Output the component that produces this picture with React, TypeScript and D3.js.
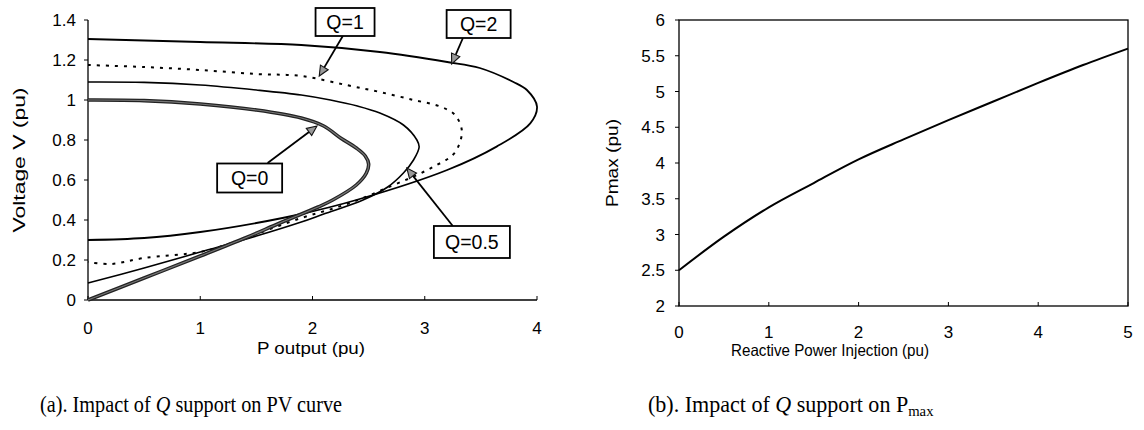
import React from "react";
import * as d3 from "d3";

// ---------- Panel (a): PV curves ----------
const PV_X_TICKS = [0, 1, 2, 3, 4];
const PV_X_LABELS = ["0", "1", "2", "3", "4"];
const PV_Y_TICKS = [0, 0.2, 0.4, 0.6, 0.8, 1.0, 1.2, 1.4];
const PV_Y_LABELS = ["0", "0.2", "0.4", "0.6", "0.8", "1", "1.2", "1.4"];

const Q0_P = [0, 0.5, 1.0, 1.5, 1.9, 2.1, 2.25, 2.39, 2.47, 2.5, 2.48, 2.39, 2.18, 2.05, 1.71, 1.4, 1.0, 0.5, 0];
const Q0_V = [1.0, 0.997, 0.98, 0.95, 0.91, 0.87, 0.81, 0.76, 0.72, 0.68, 0.635, 0.575, 0.5, 0.465, 0.385, 0.31, 0.22, 0.11, 0.0];

const Q05_P = [0, 0.5, 1.0, 1.5, 1.9, 2.16, 2.4, 2.6, 2.81, 2.93, 2.95, 2.9, 2.81, 2.67, 2.45, 2.1, 1.9, 1.5, 1.0, 0.5, 0];
const Q05_V = [1.09, 1.088, 1.075, 1.05, 1.025, 1.0, 0.97, 0.935, 0.875, 0.8, 0.765, 0.7, 0.635, 0.565, 0.5, 0.43, 0.39, 0.32, 0.24, 0.16, 0.085];

const Q1_P = [0, 0.5, 1.0, 1.5, 1.9, 2.3, 2.6, 2.9, 3.14, 3.27, 3.33, 3.31, 3.25, 3.08, 2.9, 2.7, 2.45, 2.2, 1.9, 1.5, 1.2, 1.0, 0.5, 0.2, 0];
const Q1_V = [1.175, 1.165, 1.15, 1.13, 1.12, 1.075, 1.04, 1.0, 0.967, 0.925, 0.85, 0.783, 0.725, 0.667, 0.617, 0.57, 0.51, 0.46, 0.41, 0.33, 0.27, 0.24, 0.21, 0.18, 0.19];

const Q2_P = [0, 1.0, 1.9, 2.6, 3.2, 3.49, 3.79, 3.91, 4.0, 3.94, 3.64, 3.2, 2.39, 1.9, 1.5, 1.0, 0.5, 0];
const Q2_V = [1.305, 1.29, 1.275, 1.24, 1.19, 1.16, 1.09, 1.05, 0.967, 0.883, 0.767, 0.65, 0.5, 0.43, 0.385, 0.34, 0.31, 0.3];

const CURVE_LABELS = ["Q=0", "Q=0.5", "Q=1", "Q=2"];
// label box centres (data units) and arrow tail/tip (data units)
const LABEL_P = [1.44, 3.42, 2.29, 3.48];
const LABEL_V = [0.61, 0.29, 1.39, 1.38];
const ARROW_TAIL_P = [1.6, 3.25, 2.27, 3.34];
const ARROW_TAIL_V = [0.685, 0.37, 1.32, 1.31];
const ARROW_TIP_P = [2.04, 2.84, 2.06, 3.24];
const ARROW_TIP_V = [0.87, 0.66, 1.12, 1.18];
const LABEL_W = [65, 76, 59, 64];
const LABEL_H = [29, 32, 28, 28];

// ---------- Panel (b): Pmax vs Q ----------
const PM_Q = [0, 0.5, 1, 1.5, 2, 2.5, 3, 3.5, 4, 4.5, 5];
const PM_VALUES = [2.5, 2.97, 3.38, 3.72, 4.05, 4.33, 4.6, 4.86, 5.12, 5.37, 5.6];
const PM_X_TICKS = [0, 1, 2, 3, 4, 5];
const PM_X_LABELS = ["0", "1", "2", "3", "4", "5"];
const PM_Y_TICKS = [2, 2.5, 3, 3.5, 4, 4.5, 5, 5.5, 6];
const PM_Y_LABELS = ["2", "2.5", "3", "3.5", "4", "4.5", "5", "5.5", "6"];

const SANS = "'Liberation Sans', Arial, sans-serif";
const SERIF = "'Liberation Serif', 'Times New Roman', serif";

function zip(a: number[], b: number[]): [number, number][] {
  return a.map((v, i) => [v, b[i]] as [number, number]);
}

export default function App() {
  const W = 1144;
  const H = 430;
  const xPV = d3.scaleLinear().domain([0, 4]).range([88, 537]);
  const yPV = d3.scaleLinear().domain([0, 1.4]).range([300, 20]);
  const xPm = d3.scaleLinear().domain([0, 5]).range([679, 1128]);
  const yPm = d3.scaleLinear().domain([2, 6]).range([306, 20]);

  const pvLine = d3
    .line<[number, number]>()
    .x((d) => xPV(d[0]))
    .y((d) => yPV(d[1]))
    .curve(d3.curveCatmullRom.alpha(0.5));
  const pmLine = d3
    .line<[number, number]>()
    .x((d) => xPm(d[0]))
    .y((d) => yPm(d[1]))
    .curve(d3.curveMonotoneX);

  const tickFont = 17;

  const arrows = CURVE_LABELS.map((_, i) => {
    const x1 = xPV(ARROW_TAIL_P[i]);
    const y1 = yPV(ARROW_TAIL_V[i]);
    const x2 = xPV(ARROW_TIP_P[i]);
    const y2 = yPV(ARROW_TIP_V[i]);
    const ang = Math.atan2(y2 - y1, x2 - x1);
    const L = 10;
    const hw = 4.5;
    const bx = x2 - L * Math.cos(ang);
    const by = y2 - L * Math.sin(ang);
    const px = -Math.sin(ang) * hw;
    const py = Math.cos(ang) * hw;
    return { x1, y1, bx, by, x2, y2, pts: `${x2},${y2} ${bx + px},${by + py} ${bx - px},${by - py}` };
  });

  return (
    <svg
      width={W}
      height={H}
      style={{ position: "absolute", left: 0, top: 0, background: "#fff" }}
    >
      <rect x={0} y={0} width={W} height={H} fill="#fff" />

      {/* ===== Panel (a) ===== */}
      <g>
        <line x1={xPV(0)} x2={xPV(0)} y1={yPV(0)} y2={yPV(1.4)} stroke="#000" strokeWidth={1.3} />
        <line x1={xPV(0)} x2={xPV(4)} y1={yPV(0)} y2={yPV(0)} stroke="#000" strokeWidth={1.3} />
        {PV_Y_TICKS.map((t, i) => (
          <g key={"pvy" + i}>
            <line x1={xPV(0) - 4} x2={xPV(0)} y1={yPV(t)} y2={yPV(t)} stroke="#000" strokeWidth={1} />
            <text x={xPV(0) - 12} y={yPV(t)} dy="0.36em" textAnchor="end" fontFamily={SANS} fontSize={tickFont}>
              {PV_Y_LABELS[i]}
            </text>
          </g>
        ))}
        {PV_X_TICKS.map((t, i) => (
          <g key={"pvx" + i}>
            <line x1={xPV(t)} x2={xPV(t)} y1={yPV(0)} y2={yPV(0) - 4} stroke="#000" strokeWidth={1} />
            <text x={xPV(t)} y={334} textAnchor="middle" fontFamily={SANS} fontSize={tickFont}>
              {PV_X_LABELS[i]}
            </text>
          </g>
        ))}
        <text x={311} y={354} textAnchor="middle" fontFamily={SANS} fontSize={16} textLength={108} lengthAdjust="spacingAndGlyphs">
          P output (pu)
        </text>
        <text
          transform={`translate(25,160) rotate(-90)`}
          textAnchor="middle"
          fontFamily={SANS}
          fontSize={17}
          textLength={145}
          lengthAdjust="spacingAndGlyphs"
        >
          Voltage V (pu)
        </text>

        {/* curves */}
        <path d={pvLine(zip(Q2_P, Q2_V)) || ""} fill="none" stroke="#000" strokeWidth={1.8} />
        <path d={pvLine(zip(Q1_P, Q1_V)) || ""} fill="none" stroke="#000" strokeWidth={2} strokeDasharray="3,6" />
        <path d={pvLine(zip(Q05_P, Q05_V)) || ""} fill="none" stroke="#000" strokeWidth={1.6} />
        <path d={pvLine(zip(Q0_P, Q0_V)) || ""} fill="none" stroke="#222" strokeWidth={3.6} />
        <path d={pvLine(zip(Q0_P, Q0_V)) || ""} fill="none" stroke="#777" strokeWidth={1.2} />

        {/* arrows */}
        {arrows.map((a, i) => (
          <g key={"ar" + i}>
            <line x1={a.x1} y1={a.y1} x2={a.bx} y2={a.by} stroke="#000" strokeWidth={1.8} />
            <polygon points={a.pts} fill="#999" stroke="#111" strokeWidth={1.1} />
          </g>
        ))}

        {/* labels */}
        {CURVE_LABELS.map((lab, i) => {
          const cx = xPV(LABEL_P[i]);
          const cy = yPV(LABEL_V[i]);
          return (
            <g key={"lb" + i}>
              <rect
                x={cx - LABEL_W[i] / 2}
                y={cy - LABEL_H[i] / 2}
                width={LABEL_W[i]}
                height={LABEL_H[i]}
                fill="#fff"
                stroke="#000"
                strokeWidth={1.8}
              />
              <text x={cx} y={cy} dy="0.36em" textAnchor="middle" fontFamily={SANS} fontSize={19.5}>
                {lab}
              </text>
            </g>
          );
        })}
      </g>

      {/* ===== Panel (b) ===== */}
      <g>
        <rect
          x={xPm(0)}
          y={yPm(6)}
          width={xPm(5) - xPm(0)}
          height={yPm(2) - yPm(6)}
          fill="none"
          stroke="#000"
          strokeWidth={1.3}
        />
        {PM_Y_TICKS.map((t, i) => (
          <g key={"pmy" + i}>
            <line x1={xPm(0) - 4} x2={xPm(0)} y1={yPm(t)} y2={yPm(t)} stroke="#000" strokeWidth={1} />
            <text x={xPm(0) - 14} y={yPm(t)} dy="0.36em" textAnchor="end" fontFamily={SANS} fontSize={tickFont}>
              {PM_Y_LABELS[i]}
            </text>
          </g>
        ))}
        {PM_X_TICKS.map((t, i) => (
          <g key={"pmx" + i}>
            <line x1={xPm(t)} x2={xPm(t)} y1={yPm(2)} y2={yPm(2) - 4} stroke="#000" strokeWidth={1} />
            <text x={xPm(t)} y={338} textAnchor="middle" fontFamily={SANS} fontSize={tickFont}>
              {PM_X_LABELS[i]}
            </text>
          </g>
        ))}
        <text x={830} y={356} textAnchor="middle" fontFamily={SANS} fontSize={16.5} textLength={198} lengthAdjust="spacingAndGlyphs">
          Reactive Power Injection (pu)
        </text>
        <text
          transform={`translate(618,163) rotate(-90)`}
          textAnchor="middle"
          fontFamily={SANS}
          fontSize={17}
          textLength={88}
          lengthAdjust="spacingAndGlyphs"
        >
          Pmax (pu)
        </text>
        <path d={pmLine(zip(PM_Q, PM_VALUES)) || ""} fill="none" stroke="#000" strokeWidth={2} />
      </g>

      {/* ===== Captions ===== */}
      <text transform="translate(40,412) scale(0.9,1)" fontFamily={SERIF} fontSize={22.5}>
        {"(a). Impact of "}<tspan fontStyle="italic">Q</tspan>{" support on PV curve"}
      </text>
      <text transform="translate(648,412) scale(0.98,1)" fontFamily={SERIF} fontSize={22.5}>
        {"(b). Impact of "}<tspan fontStyle="italic">Q</tspan>{" support on P"}<tspan fontSize={15} dy={4}>max</tspan>
      </text>
    </svg>
  );
}
